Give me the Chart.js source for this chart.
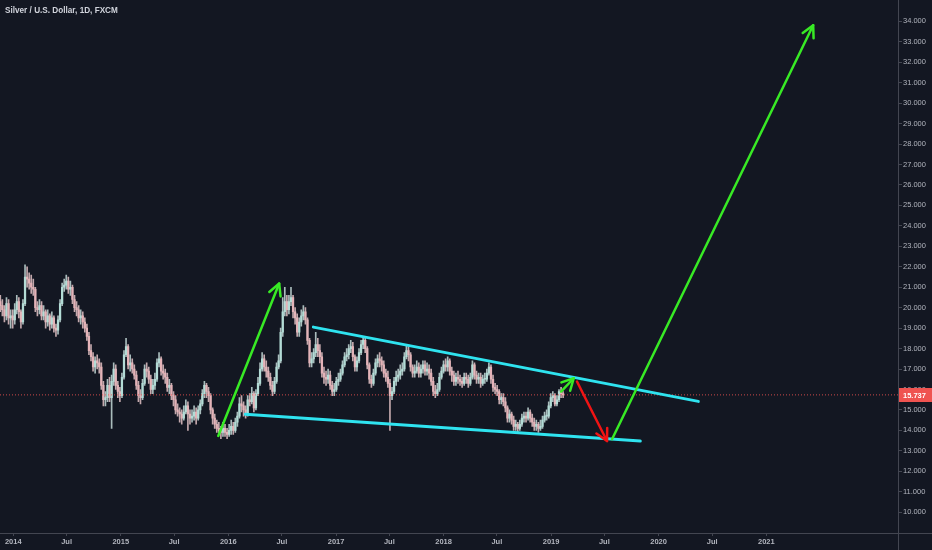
<!DOCTYPE html>
<html><head><meta charset="utf-8">
<script src="https://cdn.jsdelivr.net/npm/chart.js@4"></script>
<style>
html,body{margin:0;padding:0;background:#131722;}
#wrap{position:relative;width:932px;height:550px;overflow:hidden;}
#c{display:block;}
#title{position:absolute;left:5px;top:6px;font:bold 8.2px "Liberation Sans",Arial,sans-serif;color:#d1d4dc;white-space:nowrap;}
</style></head><body>
<div id="wrap"><canvas id="c" width="932" height="550"></canvas><div id="title">Silver / U.S. Dollar, 1D, FXCM</div></div>
<script>
// ---- DATA ----
const firstWeek = '2013-11-18';   // weekly candles, one per week from this date
const firstOpen = 20.3;
const closes = [
20.1,19.9,19.6,20.2,19.5,19.6,19.4,19.9,20.3,19.8,
19.3,20.2,21.5,21.4,21.2,21.0,20.9,20.0,19.9,20.1,
19.6,19.8,19.3,19.6,19.2,19.5,19.0,18.9,19.4,20.2,
21.0,21.1,21.3,20.9,21.0,20.4,20.0,19.9,19.5,19.6,
19.3,19.0,18.6,17.9,17.6,17.1,17.4,17.3,17.1,16.2,
15.5,15.6,16.2,15.6,16.4,17.0,16.2,15.9,15.7,16.6,
17.7,18.1,17.2,17.3,17.0,16.7,16.2,15.7,15.6,16.3,
17.0,16.9,16.5,16.0,16.2,16.5,17.3,17.5,16.9,16.8,
16.6,16.1,16.2,15.7,15.5,15.0,14.9,14.8,14.6,14.9,
15.2,14.8,14.6,14.7,14.9,14.6,15.0,15.3,15.8,16.2,
15.9,15.7,15.0,14.6,14.3,14.1,14.0,13.9,14.1,13.9,
13.8,14.0,14.2,14.0,14.4,14.7,15.3,15.2,15.0,14.8,
15.5,15.4,15.8,15.1,15.8,16.3,17.0,17.5,17.1,16.9,
16.6,16.2,15.9,16.4,17.1,17.4,18.8,19.8,20.3,19.9,
20.3,20.5,19.8,19.5,18.8,19.3,19.6,19.8,19.4,18.4,
17.3,17.5,17.8,18.2,17.9,17.6,16.8,16.6,16.5,16.7,
16.2,15.9,16.0,16.4,16.5,16.8,17.2,17.6,17.7,18.0,
18.1,17.6,17.1,17.4,17.8,18.2,18.4,18.0,17.2,16.5,
16.3,16.8,17.3,17.5,17.4,17.2,16.8,16.6,16.3,15.7,
15.9,16.4,16.6,16.7,16.9,17.0,17.6,17.9,17.7,17.1,
16.8,16.9,17.1,16.8,17.0,17.2,16.9,17.0,16.8,16.4,
15.9,15.8,16.0,16.6,16.9,17.2,17.1,17.4,16.9,16.7,
16.4,16.6,16.5,16.4,16.3,16.6,16.5,16.3,16.6,17.2,
16.7,16.5,16.6,16.3,16.5,16.5,16.8,17.1,16.5,16.1,
16.0,15.9,15.5,15.6,15.4,15.1,14.6,14.8,14.5,14.2,
14.3,14.1,14.3,14.6,14.7,14.6,14.9,14.6,14.4,14.2,
14.3,14.1,14.2,14.5,14.7,14.7,15.2,15.6,15.7,15.3,
15.5,15.9,15.8,15.74];
const highs = [
20.6,20.4,20.1,20.5,20.4,19.9,19.9,20.2,20.6,20.5,
19.9,20.4,22.1,22.0,21.7,21.6,21.4,21.0,20.3,20.4,
20.3,20.1,19.9,19.9,19.7,19.8,19.6,19.2,19.6,20.4,
21.2,21.4,21.6,21.5,21.3,21.1,20.6,20.3,20.1,19.9,
19.8,19.5,19.2,18.8,18.2,17.8,17.6,17.7,17.5,17.3,
16.4,15.9,16.5,16.6,16.7,17.3,17.2,16.4,16.1,16.8,
17.9,18.5,18.2,17.7,17.5,17.2,16.9,16.4,16.0,16.5,
17.2,17.3,17.1,16.7,16.5,16.8,17.5,17.8,17.6,17.2,
17.0,16.8,16.5,16.3,15.9,15.7,15.3,15.1,15.0,15.2,
15.5,15.4,15.0,15.0,15.2,15.1,15.2,15.5,16.0,16.4,
16.3,16.1,15.8,15.1,14.8,14.5,14.4,14.2,14.4,14.3,
14.1,14.3,14.5,14.4,14.6,14.9,15.6,15.7,15.4,15.2,
15.7,15.8,16.1,15.9,16.0,16.6,17.3,17.8,17.7,17.4,
17.1,16.8,16.4,16.6,17.3,17.7,19.0,20.5,21.0,20.6,
20.6,21.0,20.6,20.0,19.7,19.5,19.9,20.1,20.0,19.5,
18.5,17.8,18.0,18.8,18.5,18.2,17.8,17.1,16.9,17.0,
16.9,16.4,16.3,16.6,16.8,17.0,17.4,17.8,18.0,18.2,
18.4,18.3,17.7,17.6,18.0,18.4,18.6,18.5,18.1,17.3,
16.7,17.0,17.5,17.7,17.8,17.6,17.4,17.0,16.9,16.5,
16.1,16.6,16.9,17.0,17.2,17.3,17.8,18.2,18.1,17.8,
17.2,17.2,17.4,17.3,17.2,17.4,17.4,17.3,17.2,17.0,
16.6,16.2,16.3,16.8,17.1,17.4,17.5,17.6,17.5,17.1,
16.9,16.8,16.9,16.7,16.6,16.8,16.8,16.7,16.8,17.4,
17.3,16.9,16.8,16.8,16.7,16.8,17.0,17.3,17.2,16.7,
16.3,16.2,16.0,15.8,15.8,15.6,15.2,15.0,14.9,14.7,
14.5,14.4,14.5,14.8,14.9,14.9,15.1,15.0,14.8,14.6,
14.5,14.4,14.5,14.7,14.9,15.0,15.4,15.8,15.9,15.8,
15.7,16.0,16.1,15.9];
const lows = [
19.8,19.6,19.3,19.4,19.2,19.0,19.0,19.2,19.7,19.5,
19.0,19.2,20.1,21.0,20.9,20.7,20.6,19.8,19.6,19.7,
19.4,19.4,19.0,19.1,18.9,19.0,18.8,18.6,18.7,19.3,
20.1,20.8,20.9,20.7,20.6,20.2,19.8,19.6,19.3,19.2,
19.0,18.8,18.4,17.7,17.4,16.9,16.8,17.0,16.8,16.0,
15.2,15.2,15.4,15.4,14.1,16.2,16.0,15.6,15.4,15.6,
16.5,17.6,17.0,16.9,16.8,16.5,16.0,15.4,15.3,15.5,
16.2,16.6,16.3,15.8,15.8,16.0,16.4,17.1,16.7,16.5,
16.3,15.9,15.8,15.5,15.2,14.8,14.7,14.4,14.3,14.5,
14.8,14.0,14.3,14.4,14.5,14.3,14.5,14.8,15.2,15.6,
15.6,15.4,14.8,14.3,14.1,13.9,13.8,13.6,13.7,13.7,
13.6,13.7,13.8,13.8,13.9,14.2,14.6,14.9,14.7,14.6,
14.7,15.2,15.3,14.9,15.0,15.7,16.2,16.9,16.9,16.6,
16.4,16.0,15.7,15.8,16.3,17.0,17.3,18.6,19.6,19.6,
19.7,20.1,19.5,19.2,18.6,18.6,19.1,19.4,19.2,18.2,
17.1,17.1,17.3,17.6,17.6,17.3,16.6,16.3,16.2,16.3,
16.0,15.7,15.7,15.9,16.2,16.4,16.7,17.1,17.4,17.5,
17.8,17.4,16.9,16.9,17.3,17.7,18.0,17.8,17.0,16.3,
16.1,16.2,16.7,17.1,17.1,16.9,16.6,16.4,16.1,14.0,
15.5,15.8,16.2,16.4,16.5,16.7,16.9,17.5,17.4,16.9,
16.6,16.6,16.8,16.6,16.6,16.8,16.7,16.7,16.5,16.2,
15.7,15.6,15.7,15.9,16.5,16.8,16.9,16.9,16.7,16.4,
16.2,16.2,16.3,16.2,16.1,16.2,16.3,16.1,16.2,16.5,
16.5,16.3,16.3,16.1,16.2,16.3,16.4,16.7,16.3,15.9,
15.8,15.7,15.3,15.3,15.2,14.9,14.4,14.4,14.3,14.0,
14.0,13.9,14.0,14.2,14.4,14.4,14.5,14.4,14.2,14.0,
14.0,13.9,14.0,14.1,14.4,14.5,14.6,15.1,15.4,15.2,
15.2,15.4,15.6,15.6];
const lastPrice = 15.737;
const yTicks = [10,11,12,13,14,15,16,17,18,19,20,21,22,23,24,25,26,27,28,29,30,31,32,33,34];
const xTickDates = ['2014-01-01','2014-07-01','2015-01-01','2015-07-01','2016-01-01','2016-07-01','2017-01-01','2017-07-01','2018-01-01','2018-07-01','2019-01-01','2019-07-01','2020-01-01','2020-07-01','2021-01-01'];
const xTickLabels = ['2014','Jul','2015','Jul','2016','Jul','2017','Jul','2018','Jul','2019','Jul','2020','Jul','2021'];
// drawings (date, price)
const upperTrend = [['2016-10-16',19.05],['2020-05-15',15.42]];
const lowerTrend = [['2016-02-28',14.79],['2019-10-31',13.48]];
const arrowUp1 = [['2015-11-28',13.73],['2016-06-22',21.18]];
const arrowUp2 = [['2019-02-04',15.90],['2019-03-19',16.55]];
const arrowDown = [['2019-03-30',16.39],['2019-07-10',13.48]];
const arrowUp3 = [['2019-07-27',13.57],['2021-06-09',33.81]];
const viewStart = '2013-11-17', viewEnd = '2022-03-24';
const yMin = 8.984, yMax = 34.774;

// ---- helpers ----
const DAY = 86400000, EPOCH = Date.UTC(2014,0,1);
function dayOf(s){const p=s.split('-').map(Number);return (Date.UTC(p[0],p[1]-1,p[2])-EPOCH)/DAY;}
const w0 = dayOf(firstWeek);
const opens = closes.map((c,i)=> i===0 ? firstOpen : closes[i-1]);
const wickData = closes.map((c,i)=>({x:w0+7*i, y:[lows[i],highs[i]]}));
const bodyData = closes.map((c,i)=>({x:w0+7*i, y:[opens[i],c]}));
const isUp = i => closes[i] >= opens[i];
const pts = arr => arr.map(p=>({x:dayOf(p[0]), y:p[1]}));
const xTickDays = xTickDates.map(dayOf);
const xMin = dayOf(viewStart), xMax = dayOf(viewEnd);

const XFONT = {family:'"Liberation Sans", Arial, sans-serif', size:7.5, weight:'bold'};
const YFONT = {family:'"Liberation Sans", Arial, sans-serif', size:7.5, weight:'normal'};
const TXT = '#b2b5be', AXIS = '#434651';

const arrowPlugin = {
  id:'arrows',
  afterDatasetsDraw(chart){
    const ctx = chart.ctx;
    chart.data.datasets.forEach((ds,i)=>{
      if(!ds.arrowHead) return;
      const d = chart.getDatasetMeta(i).data;
      const a = d[d.length-2], b = d[d.length-1];
      const ang = Math.atan2(b.y-a.y, b.x-a.x), L = 13, s = Math.PI/6.5;
      ctx.save();
      ctx.strokeStyle = ds.borderColor; ctx.lineWidth = ds.borderWidth; ctx.lineCap='round'; ctx.lineJoin='round';
      ctx.beginPath();
      ctx.moveTo(b.x - L*Math.cos(ang-s), b.y - L*Math.sin(ang-s));
      ctx.lineTo(b.x, b.y);
      ctx.lineTo(b.x - L*Math.cos(ang+s), b.y - L*Math.sin(ang+s));
      ctx.stroke(); ctx.restore();
    });
  }
};
const framePlugin = {
  id:'frame',
  afterDraw(chart){
    const ctx = chart.ctx, ca = chart.chartArea;
    ctx.save();
    ctx.strokeStyle = AXIS; ctx.lineWidth = 1;
    ctx.beginPath();
    ctx.moveTo(ca.right+0.5, 0); ctx.lineTo(ca.right+0.5, chart.height);
    ctx.moveTo(0, ca.bottom+0.5); ctx.lineTo(chart.width, ca.bottom+0.5);
    ctx.stroke();
    const y = chart.scales.y.getPixelForValue(lastPrice);
    ctx.fillStyle = '#ef5350';
    ctx.fillRect(ca.right+1, Math.round(y)-7, chart.width-ca.right, 14);
    ctx.fillStyle = '#ffffff';
    ctx.font = 'bold 7.5px "Liberation Sans", Arial, sans-serif';
    ctx.textBaseline = 'middle'; ctx.textAlign = 'left';
    ctx.fillText(lastPrice.toFixed(3), ca.right+5, Math.round(y)+0.5);
    ctx.restore();
  }
};
const bgPlugin = {
  id:'bg',
  beforeDraw(chart){const c=chart.ctx;c.save();c.fillStyle='#131722';c.fillRect(0,0,chart.width,chart.height);c.restore();}
};

const lineDs = (label, arr, color, width, arrow, order) => ({
  type:'line', label, data:pts(arr), borderColor:color, borderWidth:width, pointRadius:0,
  borderCapStyle:'round', arrowHead:arrow, order, tension:0, clip:false
});

new Chart(document.getElementById('c'), {
  type:'bar',
  data:{datasets:[
    lineDs('Upper trend', upperTrend, '#2fe3ef', 3, false, 1),
    lineDs('Lower trend', lowerTrend, '#2fe3ef', 3, false, 1),
    lineDs('Arrow 1', arrowUp1, '#38ea25', 2.5, true, 0),
    lineDs('Arrow 2', arrowUp2, '#38ea25', 2.5, true, 0),
    lineDs('Arrow down', arrowDown, '#f01414', 2.5, true, 0),
    lineDs('Arrow 3', arrowUp3, '#38ea25', 2.5, true, 0),
    {type:'line', label:'Last price', data:[{x:xMin,y:lastPrice},{x:xMax,y:lastPrice}],
     borderColor:'rgba(239,83,80,0.85)', borderWidth:1, borderDash:[1,2], pointRadius:0, order:5},
    {type:'bar', label:'Body', data:bodyData, grouped:false, barThickness:1.6, minBarLength:1, order:9,
     backgroundColor:ctx=> isUp(ctx.dataIndex) ? '#b3dcd6' : '#e4b3b8'},
    {type:'bar', label:'Wick', data:wickData, grouped:false, barThickness:1, order:10,
     backgroundColor:ctx=> isUp(ctx.dataIndex) ? '#a9bcbc' : '#c4a9ad'}
  ]},
  options:{
    responsive:false, animation:false, devicePixelRatio:1,
    layout:{padding:0},
    plugins:{legend:{display:false}, tooltip:{enabled:false}, title:{display:false}},
    scales:{
      x:{type:'linear', min:xMin, max:xMax, offset:false, position:'bottom',
         grid:{display:true, drawOnChartArea:false, drawTicks:true, tickLength:3, color:AXIS, offset:false},
         border:{display:false},
         ticks:{color:TXT, font:XFONT, padding:1, maxRotation:0, autoSkip:false,
                callback:(v)=>{const k=xTickDays.indexOf(v);return k>=0?xTickLabels[k]:'';}},
         afterBuildTicks:s=>{s.ticks = xTickDays.map(v=>({value:v}));},
         afterFit:s=>{s.height = 17;}
      },
      y:{type:'linear', position:'right', min:yMin, max:yMax,
         grid:{display:true, drawOnChartArea:false, drawTicks:true, tickLength:4, color:AXIS},
         border:{display:false},
         ticks:{color:TXT, font:YFONT, padding:1, callback:v=>Number(v).toFixed(3)},
         afterBuildTicks:s=>{s.ticks = yTicks.map(v=>({value:v}));},
         afterFit:s=>{s.width = 34;}
      }
    }
  },
  plugins:[bgPlugin, arrowPlugin, framePlugin]
});
</script>
</body></html>
